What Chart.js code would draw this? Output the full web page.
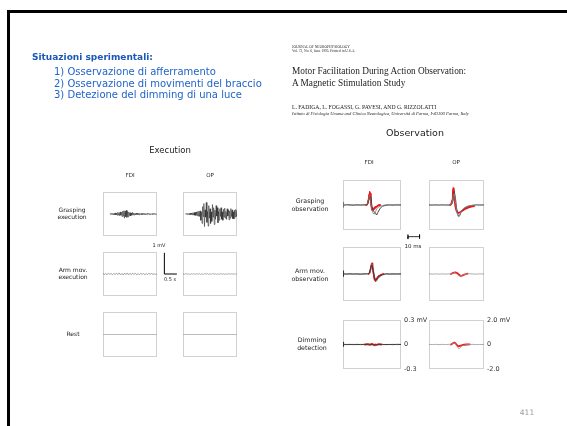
<!DOCTYPE html>
<html>
<head>
<meta charset="utf-8">
<script src="https://cdn.jsdelivr.net/npm/chart.js@4/dist/chart.umd.min.js"></script>
<style>
  html, body { margin: 0; padding: 0; background: #fff; }
  #slide { position: relative; width: 567px; height: 426px; overflow: hidden; background: #fff; }
  .t { position: absolute; white-space: nowrap; line-height: 1; will-change: transform; }
  .c { transform: translate(-50%, -50%); }
  .l { transform: translate(0, -50%); }
  canvas { position: absolute; }
  .rule { position: absolute; background: #000; }
</style>
</head>
<body>
<div id="slide"></div>
<script>
// ---------- Execution: EMG traces (mV) ----------
const execStep = 0.025;            // s between samples of the grasping bursts
const fdiGraspExecStart = 0.3;     // s
const fdiGraspExec = [
  0.015,-0.02,0.025,-0.015,0.03,-0.04,0.025,-0.03,0.05,-0.045,
  0.04,-0.06,0.08,-0.05,0.06,-0.08,0.1,-0.06,0.08,-0.12,
  0.13,-0.1,0.16,-0.2,0.14,-0.13,0.18,-0.16,0.12,-0.14,
  0.1,-0.08,0.06,-0.09,0.05,-0.06,0.08,-0.04,0.04,-0.05,
  0.03,-0.04,0.045,-0.025,0.03,-0.03,0.025,-0.04,0.03,-0.02,
  0.025,-0.025,0.02,-0.03,0.025,-0.02,0.03,-0.025,0.02,-0.02,
  0.025,-0.015,0.02,-0.025,0.015,-0.02,0.02,-0.015,0.015,-0.02,
  0.015,-0.015,0.02,-0.015,0.015,-0.01
];
const opGraspExecStart = 0.1;      // s
const opGraspExec = [
  0.01,-0.01,0.02,-0.02,0.03,-0.02,0.02,-0.03,0.04,-0.03,0.05,-0.04,
  0.06,-0.05,0.07,-0.06,0.08,-0.07,0.1,-0.08,0.12,-0.1,0.14,-0.12,
  0.15,-0.3,0.1,-0.45,0.35,-0.12,0.5,-0.6,0.2,-0.15,0.55,-0.4,0.12,-0.58,
  0.4,-0.2,0.25,-0.45,0.1,-0.35,0.45,-0.15,0.3,-0.5,0.18,-0.25,0.4,-0.1,
  0.3,-0.42,0.12,-0.3,
  0.25,-0.12,0.3,-0.25,0.1,-0.3,0.22,-0.15,0.28,-0.2,0.12,-0.26,0.25,-0.1,
  0.2,-0.28,0.15,-0.2,0.26,-0.12,0.2,-0.22,0.1,-0.24,0.18,-0.15,0.22,-0.12,0.15
];
const armExecStep = 0.055;         // s
const fdiArmExec = [
  0.02,-0.02,0.01,-0.02,0.03,-0.01,0.02,-0.03,0.02,-0.02,0.04,-0.03,0.05,-0.04,
  0.03,-0.05,0.04,-0.03,0.05,-0.04,0.03,-0.03,0.04,-0.02,0.03,-0.04,0.02,-0.03,
  0.03,-0.02,0.02,-0.03,0.02,-0.02,0.03,-0.01,0.02,-0.02,0.01,-0.02,0.01
];
const opArmExec = [
  0.01,-0.01,0.02,-0.01,0.01,-0.02,0.01,-0.01,0.02,-0.02,0.01,-0.01,0.02,-0.02,
  0.01,-0.02,0.02,-0.01,0.02,-0.02,0.01,-0.01,0.02,-0.01,0.01,-0.02,0.01,-0.01,
  0.02,-0.01,0.01,-0.02,0.01,-0.01,0.02,-0.01,0.01,-0.01,0.01,-0.01,0.01
];
const restStep = 2.2;
const restExec = [0, 0];
const execWindow = [0, 2.2];       // s
const execRangeMv = [-1.05, 1.05];
const execBarMv = 1;               // calibration: 1 mV
const execBarS = 0.5;              // calibration: 0.5 s
const execBarAt = 2.5;             // s, just right of the FDI box

// ---------- Observation: MEPs (mV) against time (ms) ----------
const obsT = [0,0.3,0.6,1,3,6,9,12,15,18,20,21,22,23,24,25,26,27,28,29,30,32,34,37,40,43,46,50];

const fdiGraspGrayA = [0.035,-0.03,0.005,0.002,0.004,-0.003,0.003,-0.002,0.003,-0.002,0.002,0.012,0.07,0.12,0.04,-0.06,-0.1,-0.11,-0.08,-0.05,-0.03,-0.015,-0.006,0.002,-0.002,0.003,-0.002,0.001];
const fdiGraspGrayB = [0.03,-0.025,0.004,-0.002,0.003,0.002,-0.003,0.003,-0.002,0.002,0.003,0.008,0.05,0.1,0.09,-0.02,-0.07,-0.08,-0.1,-0.12,-0.09,-0.04,-0.015,-0.003,0.002,-0.002,0.002,0];
const fdiGraspRedT = [20,21,22,22.5,23,23.5,24,24.5,25,26,27,28,29,30,31,32];
const fdiGraspRed1 = [0,0.01,0.06,0.12,0.155,0.13,0.05,-0.02,-0.05,-0.06,-0.04,-0.03,-0.02,-0.01,-0.005,0];
const fdiGraspRed2 = [0,0.005,0.05,0.1,0.14,0.14,0.08,0,-0.04,-0.05,-0.05,-0.035,-0.02,-0.01,0,0];
const fdiGraspRed3 = [0,0.01,0.07,0.13,0.16,0.1,0.03,-0.03,-0.06,-0.055,-0.03,-0.02,-0.015,-0.005,0,0];

const opGraspGrayA = [0,0.01,-0.01,0.01,0.02,-0.02,0.01,-0.01,0.02,-0.01,0.02,0.15,0.7,0.9,0.3,-0.4,-0.85,-0.95,-0.75,-0.55,-0.4,-0.22,-0.12,-0.05,-0.02,0.01,-0.01,0];
const opGraspGrayB = [0,-0.01,0.01,0,-0.01,0.02,-0.01,0.02,-0.01,0.01,0.01,0.1,0.5,1.1,0.6,-0.2,-0.7,-0.9,-0.85,-0.6,-0.45,-0.28,-0.15,-0.06,-0.02,0.01,0,0.01];
const opGraspRedT = [19,20,21,21.5,22,22.5,23,24,25,26,27,28,30,32,34,36,38,41];
const opGraspRed1 = [0,0.05,0.4,0.9,1.36,1.2,0.6,-0.2,-0.5,-0.62,-0.64,-0.58,-0.45,-0.35,-0.25,-0.18,-0.12,-0.08];
const opGraspRed2 = [0,0.03,0.3,0.8,1.25,1.3,0.8,0,-0.4,-0.58,-0.62,-0.6,-0.5,-0.38,-0.28,-0.2,-0.14,-0.1];

const fdiArmGrayA = [0.035,-0.03,0.004,0.002,-0.002,0.003,-0.002,0.002,-0.003,0.002,0.001,0.002,0.004,0.02,0.08,0.1,0.04,-0.03,-0.07,-0.06,-0.04,-0.02,-0.008,0.002,-0.002,0.002,-0.001,0.001];
const fdiArmGrayB = [0.03,-0.02,0.003,-0.002,0.002,-0.002,0.003,-0.002,0.002,-0.002,0.002,0.001,0.002,0.01,0.05,0.11,0.07,-0.02,-0.06,-0.08,-0.05,-0.03,-0.01,0.001,0.002,-0.002,0.001,0];
const fdiArmRedT = [22,23,24,24.5,25,25.5,26,27,28,29,30,31,33,35];
const fdiArmRed1 = [0,0.01,0.06,0.1,0.12,0.09,0.03,-0.05,-0.075,-0.06,-0.04,-0.02,-0.01,0];
const fdiArmRed2 = [0,0.015,0.07,0.11,0.115,0.08,0.02,-0.06,-0.08,-0.05,-0.03,-0.02,-0.005,0];

const opArmGray = [0,0.01,-0.01,0.01,-0.01,0.01,-0.01,0.01,-0.01,0.01,0,0.02,0.06,0.1,0.08,0.02,-0.06,-0.12,-0.16,-0.14,-0.1,-0.04,0,0.02,0,-0.01,0.01,0];
const opArmRedT = [20,22,24,26,28,29,30,32,34,35];
const opArmRed = [0,0.08,0.12,0.05,-0.1,-0.15,-0.12,-0.05,0,0.02];

const fdiDimGrayA = [0.03,-0.025,0.003,0.002,-0.002,0.002,-0.002,0.002,-0.002,0.002,-0.001,0.002,0.004,0.003,-0.002,-0.004,-0.003,0.002,0.003,-0.002,0.002,-0.001,0.002,-0.002,0.001,-0.002,0.002,0.001];
const fdiDimGrayB = [0.025,-0.02,0.002,-0.002,0.002,-0.002,0.002,-0.002,0.002,-0.002,0.002,-0.002,0.002,-0.003,0.003,0.002,-0.002,-0.003,0.002,0.002,-0.002,0.002,-0.002,0.001,-0.001,0.002,-0.001,0];
const fdiDimRedT = [19,21,23,25,27,29,31,33];
const fdiDimRed = [0,0.005,-0.005,0.008,-0.01,-0.005,0.004,0];

const opDimGray = [0,0.01,-0.01,0.01,-0.01,0.01,-0.01,0.01,-0.01,0.01,0.02,0.06,0.12,0.14,0.05,-0.1,-0.25,-0.35,-0.3,-0.2,-0.12,-0.06,-0.02,0,0.01,-0.01,0,0];
const opDimRedT = [20,21,22,23,24,25,26,27,28,30,32,34,37];
const opDimRed = [0,0.05,0.12,0.16,0.1,0,-0.1,-0.15,-0.12,-0.06,-0.02,0,0.01];

const obsWindow = [0, 50];          // ms
const fdiRangeMv = [-0.3, 0.3];
const opRangeMv = [-2.0, 2.0];
const fdiTicks = [-0.3, 0, 0.3];
const opTicks = [-2.0, 0, 2.0];
const obsBarMs = 10;                // calibration: 10 ms
const obsBarAt = 56;                // ms, right of the FDI box
const obsBarLevel = -0.38;          // mV, below the FDI box

// ---------- helpers ----------
const slide = document.getElementById('slide');

function text(str, x, y, css, anchor) {
  const d = document.createElement('div');
  d.className = 't ' + (anchor || 'c');
  d.textContent = str;
  d.style.left = x + 'px';
  d.style.top = y + 'px';
  d.style.cssText += css;
  slide.appendChild(d);
  return d;
}

function rule(x, y, w, h) {
  const d = document.createElement('div');
  d.className = 'rule';
  Object.assign(d.style, { left: x + 'px', top: y + 'px', width: w + 'px', height: h + 'px' });
  slide.appendChild(d);
}

function sampled(start, step, values) {
  return values.map((v, i) => ({ x: start + i * step, y: v }));
}
function paired(times, values) {
  return values.map((v, i) => ({ x: times[i], y: v }));
}
function trace(data, color, width) {
  return { data, borderColor: color, borderWidth: width, pointRadius: 0, fill: false };
}
// Calibration bars sit outside the plotting window; their points are listed
// right-to-left so the line controller draws every vertex instead of trimming
// to the visible x range.
function calL(x0, dx, y0, dy) {
  return { data: [{ x: x0 + dx, y: y0 }, { x: x0, y: y0 }, { x: x0, y: y0 + dy }],
           borderColor: '#000', borderWidth: 1, pointRadius: 0, clip: false };
}
function calH(x0, dx, y0, tick) {
  return { data: [{ x: x0 + dx, y: y0 + tick }, { x: x0 + dx, y: y0 - tick }, { x: x0 + dx, y: y0 },
                  { x: x0, y: y0 }, { x: x0, y: y0 + tick }, { x: x0, y: y0 - tick }],
           borderColor: '#000', borderWidth: 0.8, pointRadius: 0, clip: false };
}

const framePlugin = {
  id: 'frame',
  beforeDatasetsDraw(chart) {
    const { ctx, chartArea: a } = chart;
    ctx.save();
    ctx.strokeStyle = '#d2d2d2';
    ctx.lineWidth = 1;
    ctx.strokeRect(Math.round(a.left) + 0.5, Math.round(a.top) + 0.5,
                   Math.round(a.right - a.left) - 1, Math.round(a.bottom - a.top) - 1);
    ctx.restore();
  }
};

function panel({ box, pad, xRange, yRange, datasets, axis }) {
  const axW = axis ? 34 : 0;
  const [pl, pt, pr, pb] = pad;
  const w = box[2] + pl + pr + axW;
  const h = box[3] + pt + pb;
  const cv = document.createElement('canvas');
  cv.width = w; cv.height = h;
  cv.style.left = (box[0] - pl) + 'px';
  cv.style.top = (box[1] - pt) + 'px';
  slide.appendChild(cv);
  new Chart(cv, {
    type: 'line',
    data: { datasets },
    options: {
      responsive: false, animation: false, devicePixelRatio: 1,
      layout: { padding: { left: pl, top: pt, right: pr, bottom: pb } },
      plugins: { legend: { display: false }, tooltip: { enabled: false } },
      elements: { line: { tension: 0, borderJoinStyle: 'round', borderCapStyle: 'round' } },
      scales: {
        x: { type: 'linear', display: false, min: xRange[0], max: xRange[1] },
        y: {
          type: 'linear', display: !!axis, position: 'right',
          min: yRange[0], max: yRange[1],
          grid: { display: false, drawTicks: false }, border: { display: false },
          afterBuildTicks: s => { if (axis) s.ticks = axis.ticks.map(v => ({ value: v })); },
          afterFit: s => { s.width = axW; },
          ticks: {
            autoSkip: false, padding: 3, color: '#333',
            font: { family: 'DejaVu Sans', size: 6.5 },
            callback: v => axis ? axis.label(v) : ''
          }
        }
      }
    },
    plugins: [framePlugin]
  });
}

// ---------- slide frame ----------
rule(7, 10, 560, 3);
rule(7, 10, 3, 416);

// ---------- slide text ----------
const blue = 'font-family:"DejaVu Sans";color:#1f63c8;';
text('Situazioni sperimentali:', 32, 57, blue + 'font-size:9px;font-weight:bold;color:#1a58b8;', 'l');
text('1) Osservazione di afferramento', 54, 72, blue + 'font-size:10px;', 'l');
text('2) Osservazione di movimenti del braccio', 54, 83.5, blue + 'font-size:10px;', 'l');
text('3) Detezione del dimming di una luce', 54, 95, blue + 'font-size:10px;', 'l');

const serif = 'font-family:"Liberation Serif";color:#222;';
text('JOURNAL OF NEUROPHYSIOLOGY', 292, 47.5, serif + 'font-size:3.6px;', 'l');
text('Vol. 73, No. 6, June 1995. Printed in U.S.A.', 292, 51.5, serif + 'font-size:3.6px;', 'l');
text('Motor Facilitation During Action Observation:', 292, 72, serif + 'font-size:9.3px;', 'l');
text('A Magnetic Stimulation Study', 292, 83.5, serif + 'font-size:9.3px;', 'l');
text('L. FADIGA, L. FOGASSI, G. PAVESI, AND G. RIZZOLATTI', 292, 108, serif + 'font-size:5.7px;', 'l');
text('Istituto di Fisiologia Umana and Clinica Neurologica, Università di Parma, I-43100 Parma, Italy', 292, 113.5, serif + 'font-size:4.5px;font-style:italic;', 'l');

text('411', 527, 413, 'font-family:"DejaVu Sans";font-size:7.5px;color:#9a9a9a;');

// ---------- Execution figure ----------
const fig = 'font-family:"DejaVu Sans";color:#222;';
text('Execution', 170, 150, fig + 'font-size:8.5px;');
text('FDI', 130, 175.5, fig + 'font-size:5.5px;');
text('OP', 210, 175.5, fig + 'font-size:5.5px;');
text('Grasping', 72, 209.5, fig + 'font-size:6px;');
text('execution', 72, 216.5, fig + 'font-size:6px;');
text('Arm   mov.', 73, 269.5, fig + 'font-size:6px;');
text('execution', 73, 276.5, fig + 'font-size:6px;');
text('Rest', 73, 334, fig + 'font-size:6px;');
text('1   mV', 159, 245, fig + 'font-size:5px;');
text('0.5   s', 170, 278.5, fig + 'font-size:5px;');

panel({ box: [103, 192, 54, 44], pad: [4, 4, 4, 4], xRange: execWindow, yRange: execRangeMv,
  datasets: [trace(sampled(fdiGraspExecStart, execStep, fdiGraspExec), '#333', 0.6)] });
panel({ box: [183, 192, 54, 44], pad: [4, 4, 4, 4], xRange: execWindow, yRange: execRangeMv,
  datasets: [trace(sampled(opGraspExecStart, execStep, opGraspExec), '#222', 0.55)] });
panel({ box: [103, 252, 54, 44], pad: [4, 4, 26, 4], xRange: execWindow, yRange: execRangeMv,
  datasets: [trace(sampled(0, armExecStep, fdiArmExec), '#888', 0.8),
             calL(execBarAt, execBarS, 0, execBarMv)] });
panel({ box: [183, 252, 54, 44], pad: [4, 4, 4, 4], xRange: execWindow, yRange: execRangeMv,
  datasets: [trace(sampled(0, armExecStep, opArmExec), '#999', 0.8)] });
panel({ box: [103, 312, 54, 45], pad: [4, 4, 4, 4], xRange: execWindow, yRange: execRangeMv,
  datasets: [trace(sampled(0, restStep, restExec), '#aaa', 0.8)] });
panel({ box: [183, 312, 54, 45], pad: [4, 4, 4, 4], xRange: execWindow, yRange: execRangeMv,
  datasets: [trace(sampled(0, restStep, restExec), '#aaa', 0.8)] });

// ---------- Observation figure ----------
const red = 'rgb(240,24,24)';
text('Observation', 415, 133, fig + 'font-size:9.5px;');
text('FDI', 369, 163, fig + 'font-size:5.5px;');
text('OP', 456, 163, fig + 'font-size:5.5px;');
text('Grasping', 310, 201, fig + 'font-size:6.3px;');
text('observation', 310, 208.5, fig + 'font-size:6.3px;');
text('10 ms', 413, 247, fig + 'font-size:5.5px;');
text('Arm  mov.', 310, 271, fig + 'font-size:6.3px;');
text('observation', 310, 278.5, fig + 'font-size:6.3px;');
text('Dimming', 312, 340, fig + 'font-size:6.3px;');
text('detection', 312, 347.5, fig + 'font-size:6.3px;');

panel({ box: [343, 180, 58, 50], pad: [4, 4, 24, 14], xRange: obsWindow, yRange: fdiRangeMv,
  datasets: [trace(paired(obsT, fdiGraspGrayA), '#777', 0.8),
             trace(paired(obsT, fdiGraspGrayB), '#333', 0.9),
             trace(paired(fdiGraspRedT, fdiGraspRed1), red, 1.3),
             trace(paired(fdiGraspRedT, fdiGraspRed2), red, 1.3),
             trace(paired(fdiGraspRedT, fdiGraspRed3), red, 1.3),
             calH(obsBarAt, obsBarMs, obsBarLevel, 0.025)] });
panel({ box: [429, 180, 55, 50], pad: [4, 4, 4, 4], xRange: obsWindow, yRange: opRangeMv,
  datasets: [trace(paired(obsT, opGraspGrayA), '#888', 0.8),
             trace(paired(obsT, opGraspGrayB), '#444', 0.9),
             trace(paired(opGraspRedT, opGraspRed1), red, 1.4),
             trace(paired(opGraspRedT, opGraspRed2), red, 1.4)] });
panel({ box: [343, 247, 58, 54], pad: [4, 4, 4, 4], xRange: obsWindow, yRange: fdiRangeMv,
  datasets: [trace(paired(obsT, fdiArmGrayA), '#333', 0.9),
             trace(paired(obsT, fdiArmGrayB), '#777', 0.8),
             trace(paired(fdiArmRedT, fdiArmRed1), red, 1.3),
             trace(paired(fdiArmRedT, fdiArmRed2), red, 1.3)] });
panel({ box: [429, 247, 55, 54], pad: [4, 4, 4, 4], xRange: obsWindow, yRange: opRangeMv,
  datasets: [trace(paired(obsT, opArmGray), '#999', 0.8),
             trace(paired(opArmRedT, opArmRed), red, 1.8)] });
panel({ box: [343, 319, 58, 51], pad: [4, 6, 0, 6], xRange: obsWindow, yRange: fdiRangeMv,
  axis: { ticks: fdiTicks, label: v => v === 0 ? '0' : (v > 0 ? v.toFixed(1) + ' mV' : v.toFixed(1)) },
  datasets: [trace(paired(obsT, fdiDimGrayA), '#333', 0.9),
             trace(paired(obsT, fdiDimGrayB), '#666', 0.8),
             trace(paired(fdiDimRedT, fdiDimRed), red, 1.8)] });
panel({ box: [429, 319, 55, 51], pad: [4, 6, 0, 6], xRange: obsWindow, yRange: opRangeMv,
  axis: { ticks: opTicks, label: v => v === 0 ? '0' : (v > 0 ? v.toFixed(1) + ' mV' : v.toFixed(1)) },
  datasets: [trace(paired(obsT, opDimGray), '#999', 0.8),
             trace(paired(opDimRedT, opDimRed), red, 1.8)] });
</script>
</body>
</html>
